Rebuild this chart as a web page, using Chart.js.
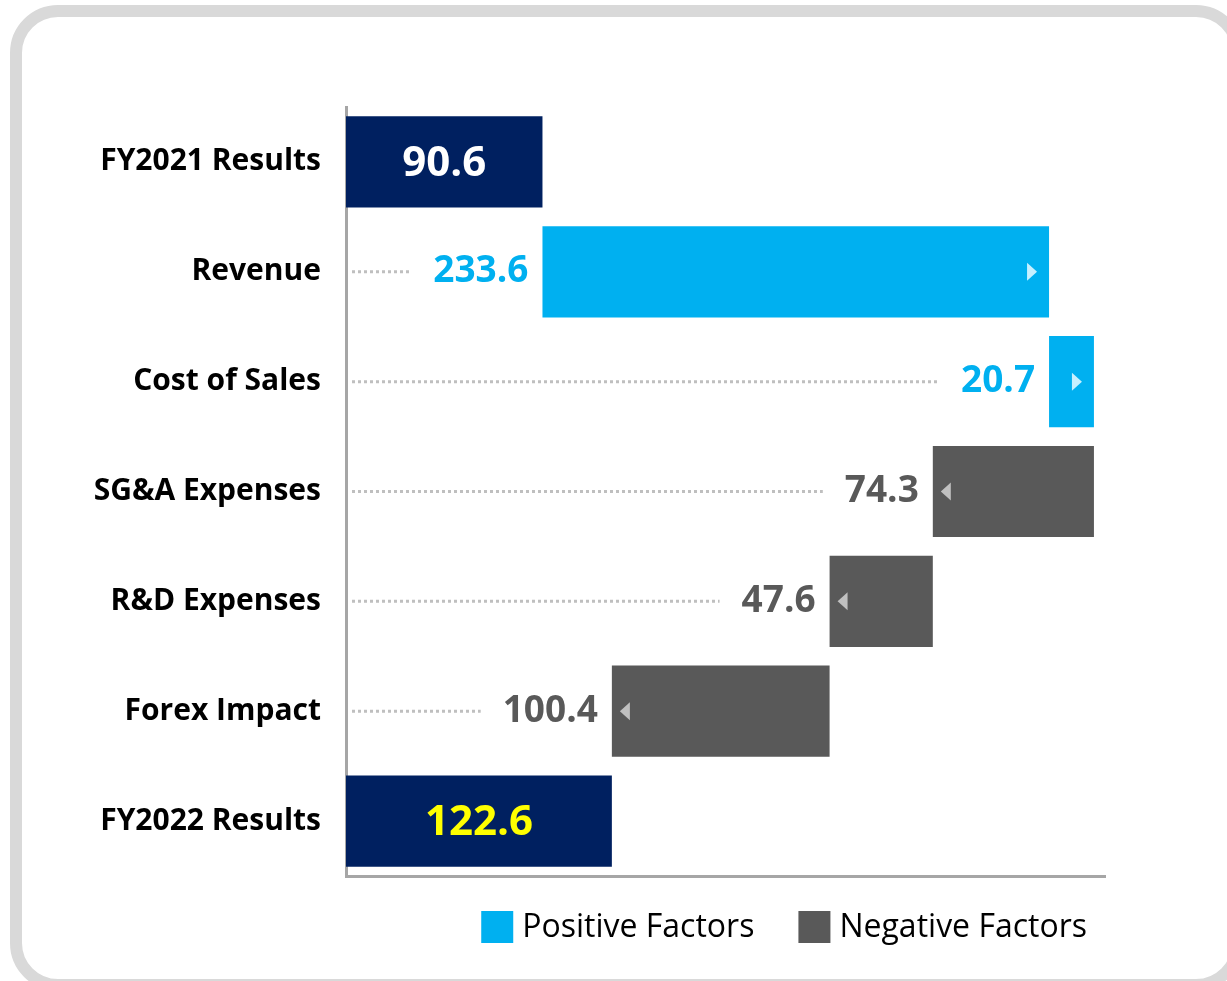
<!DOCTYPE html>
<html lang="en">
<head>
<meta charset="UTF-8">
<title>FY2021 to FY2022 bridge</title>
<script src="https://cdn.jsdelivr.net/npm/chart.js"></script>
<style>
    body { margin: 0; background: #ffffff; overflow: hidden; }
    .frame {
        position: absolute; left: 10px; top: 5px; width: 1210px; height: 962px;
        border: 12px solid #d9d9d9; border-radius: 48px; box-sizing: content-box;
    }
    canvas { position: absolute; left: 0; top: 0; }
</style>
</head>
<body>
<div class="frame"></div>
<canvas id="bridge" width="1227" height="981"></canvas>
<script>
// datos del puente
const categories = ['FY2021 Results', 'Revenue', 'Cost of Sales', 'SG&A Expenses', 'R&D Expenses', 'Forex Impact', 'FY2022 Results'];
const changes = [90.6, 233.6, 20.7, -74.3, -47.6, -100.4, 122.6];
const kinds = ['total', 'pos', 'pos', 'neg', 'neg', 'neg', 'total'];
const legendLabels = ['Positive Factors', 'Negative Factors'];

const NAVY = '#002060', CYAN = '#00b0f0', GREY = '#595959';

// rangos flotantes
let running = 0;
const ranges = changes.map((v, i) => {
    if (kinds[i] === 'total') { running = v; return [0, v]; }
    const start = running;
    running = running + v;
    return [start, running];
});
const barColors = kinds.map(k => k === 'total' ? NAVY : (k === 'pos' ? CYAN : GREY));

const FONT = '"Open Sans", "Noto Sans", sans-serif';

// etiquetas, líneas punteadas, flechas y leyenda
const bridgeDecor = {
    id: 'bridgeDecor',
    afterDatasetsDraw(chart) {
        const ctx = chart.ctx;
        const meta = chart.getDatasetMeta(0);
        const xs = chart.scales.x;
        ctx.save();
        meta.data.forEach((bar, i) => {
            const r = ranges[i];
            const left = xs.getPixelForValue(Math.min(r[0], r[1]));
            const right = xs.getPixelForValue(Math.max(r[0], r[1]));
            const y = bar.y;
            const txt = Math.abs(changes[i]).toFixed(1);
            if (kinds[i] === 'total') {
                ctx.font = 'bold 42px ' + FONT;
                ctx.fillStyle = i === 0 ? '#ffffff' : '#ffff00';
                ctx.textAlign = 'center';
                ctx.textBaseline = 'middle';
                ctx.fillText(txt, (left + right) / 2, y + 2);
                return;
            }
            // valor a la izquierda de la barra
            ctx.font = 'bold 37px ' + FONT;
            ctx.fillStyle = kinds[i] === 'pos' ? CYAN : GREY;
            ctx.textAlign = 'right';
            ctx.textBaseline = 'middle';
            const tx = left - 14;
            ctx.fillText(txt, tx, y);
            const tw = ctx.measureText(txt).width;
            // línea punteada desde el eje
            ctx.strokeStyle = '#bfbfbf';
            ctx.lineWidth = 3;
            ctx.setLineDash([3, 3]);
            ctx.beginPath();
            ctx.moveTo(xs.left + 6, y);
            ctx.lineTo(tx - tw - 22, y);
            ctx.stroke();
            ctx.setLineDash([]);
            // flecha
            ctx.beginPath();
            if (kinds[i] === 'pos') {
                ctx.fillStyle = '#c7f0ff';
                const ax = right - 22;
                ctx.moveTo(ax, y - 9); ctx.lineTo(ax + 10, y); ctx.lineTo(ax, y + 9);
            } else {
                ctx.fillStyle = '#c0c0c0';
                const ax = left + 8;
                ctx.moveTo(ax + 10, y - 9); ctx.lineTo(ax, y); ctx.lineTo(ax + 10, y + 9);
            }
            ctx.closePath();
            ctx.fill();
        });

        // leyenda abajo a la derecha
        ctx.font = '32px ' + FONT;
        ctx.textAlign = 'left';
        ctx.textBaseline = 'middle';
        const colors = [CYAN, GREY];
        const widths = legendLabels.map(t => ctx.measureText(t).width);
        const box = 32, gapText = 9, gapItem = 44;
        const total = widths.reduce((a, w) => a + box + gapText + w, 0) + gapItem;
        let lx = xs.right - 18 - total;
        const ly = chart.chartArea.bottom + 52;
        legendLabels.forEach((t, i) => {
            ctx.fillStyle = colors[i];
            ctx.fillRect(lx, ly - box / 2 - 1, box, box);
            ctx.fillStyle = '#000000';
            ctx.fillText(t, lx + box + gapText, ly);
            lx += box + gapText + widths[i] + gapItem;
        });
        ctx.restore();
    }
};

new Chart(document.getElementById('bridge'), {
    type: 'bar',
    data: {
        labels: categories,
        datasets: [{
            data: ranges,
            backgroundColor: barColors,
            borderSkipped: false,
            categoryPercentage: 1,
            barPercentage: 0.83
        }]
    },
    options: {
        indexAxis: 'y',
        responsive: false,
        animation: false,
        layout: { padding: { top: 107, right: 122, bottom: 105, left: 0 } },
        scales: {
            x: {
                min: 0,
                max: 350,
                grid: { display: false, drawTicks: false },
                ticks: { display: false },
                border: { display: true, color: '#a6a6a6', width: 3 },
                afterFit(scale) { scale.height = 0; }
            },
            y: {
                grid: { display: false, drawTicks: false },
                border: { display: true, color: '#a6a6a6', width: 3 },
                ticks: {
                    color: '#000000',
                    padding: 25,
                    font: { family: FONT, size: 30, weight: 'bold' }
                },
                afterFit(scale) { scale.width = 346; }
            }
        },
        plugins: {
            tooltip: { enabled: false },
            legend: { display: false }
        }
    },
    plugins: [bridgeDecor]
});
</script>
</body>
</html>
